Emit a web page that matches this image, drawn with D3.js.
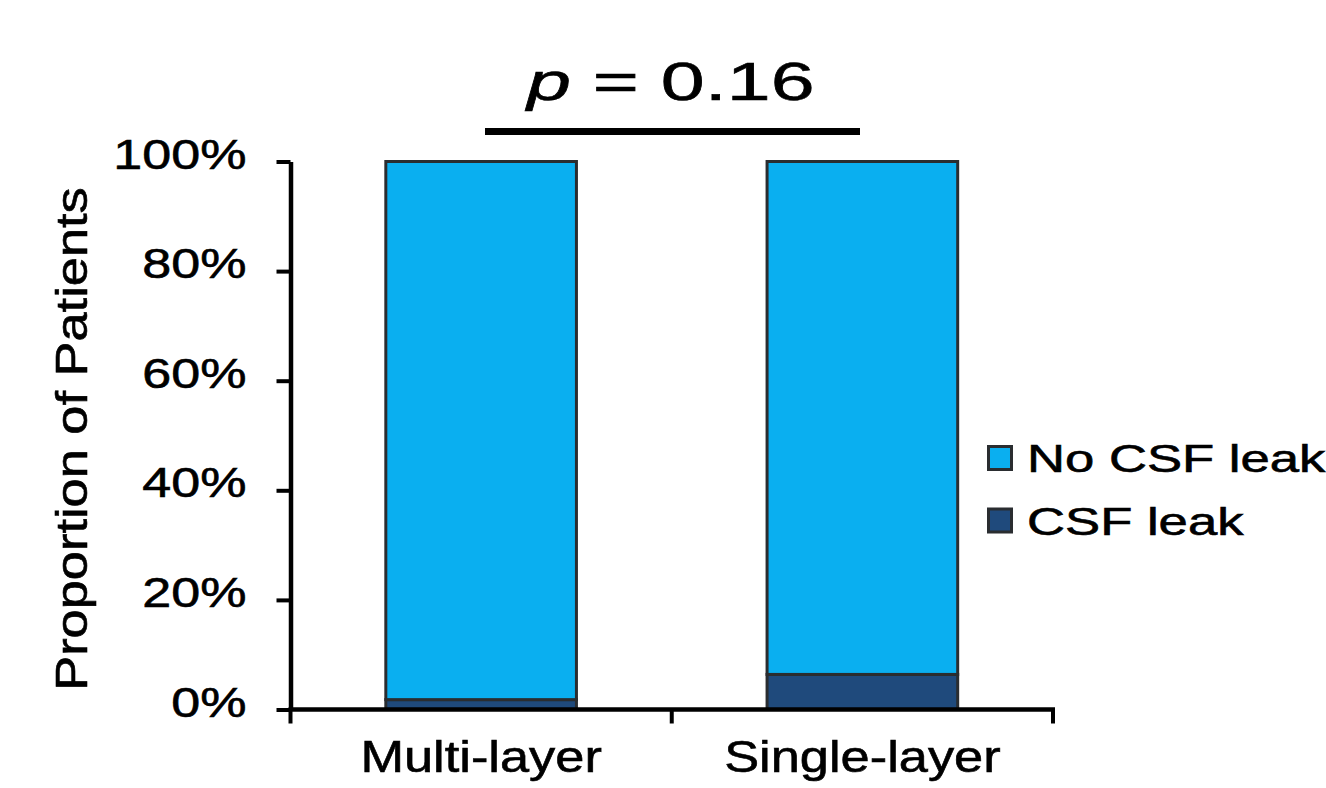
<!DOCTYPE html>
<html>
<head>
<meta charset="utf-8">
<script src="https://cdn.jsdelivr.net/npm/d3@7"></script>
<style>
  html, body { margin: 0; padding: 0; background: #fff; }
  svg { display: block; font-family: "Liberation Sans", Arial, Helvetica, sans-serif; }
  svg text { fill: #000; stroke: #000; stroke-width: 0.6px; }
</style>
</head>
<body>
<svg id="chart" width="1326" height="788"></svg>
<script>
// data
const categories = ['Multi-layer', 'Single-layer'];
const csfLeak = [1.8, 6.4];          // % of patients
const noCsfLeak = [98.2, 93.6];      // % of patients
const seriesNames = ['No CSF leak', 'CSF leak'];
const yTicks = [0, 20, 40, 60, 80, 100];
const pValue = '0.16';

const colors = { 'No CSF leak': '#0aaff0', 'CSF leak': '#1f4a7c' };

const svg = d3.select('#chart');

// plot box
const plotLeft = 290.5, plotRight = 1053, plotTop = 161.5, plotBottom = 709.5;

const rows = categories.map((c, i) => ({ cat: c, 'CSF leak': csfLeak[i], 'No CSF leak': noCsfLeak[i] }));
// CSF leak sits on the bottom of each bar
const stack = d3.stack().keys(['CSF leak', 'No CSF leak']);
const layers = stack(rows);

const x = d3.scaleBand().domain(categories).range([plotLeft, plotRight]).padding(0);
const y = d3.scaleLinear().domain([0, 100]).range([plotBottom, plotTop]);

const barW = x.bandwidth() * 0.5;

// bars
const g = svg.append('g').attr('class', 'bars');
layers.forEach(layer => {
    g.selectAll('.bar-' + layer.key.replace(/\s/g, ''))
        .data(layer)
        .enter()
        .append('rect')
        .attr('x', d => x(d.data.cat) + x.bandwidth() / 2 - barW / 2)
        .attr('width', barW)
        .attr('y', d => y(d[1]))
        .attr('height', d => y(d[0]) - y(d[1]))
        .attr('fill', colors[layer.key])
        .attr('stroke', '#2a2d30')
        .attr('stroke-width', 3);
});

// y axis
const yAxis = d3.axisLeft(y)
    .tickValues(yTicks)
    .tickSizeInner(14)
    .tickSizeOuter(0)
    .tickPadding(0)
    .tickFormat(d => d + '%');

const yG = svg.append('g')
    .attr('transform', 'translate(' + plotLeft + ',0)')
    .call(yAxis);
yG.select('.domain').attr('stroke', '#000').attr('stroke-width', 4.5);
yG.selectAll('.tick line').attr('stroke', '#000').attr('stroke-width', 4);
yG.selectAll('.tick text')
    .attr('x', null).attr('dy', null)
    .style('font-size', '42px')
    .attr('text-anchor', 'end')
    .attr('transform', 'translate(-44,6.5) scale(1.24,1)');

// x axis: line plus ticks at band edges
const xG = svg.append('g').attr('class', 'x axis');
xG.append('line')
    .attr('x1', plotLeft - 2).attr('x2', plotRight + 2)
    .attr('y1', plotBottom).attr('y2', plotBottom)
    .attr('stroke', '#000').attr('stroke-width', 4.5);

const edges = [x.range()[0]].concat(categories.map(c => x(c) + x.bandwidth()));
xG.selectAll('.xtick').data(edges).enter()
    .append('line')
    .attr('x1', d => d).attr('x2', d => d)
    .attr('y1', plotBottom).attr('y2', plotBottom + 14)
    .attr('stroke', '#000').attr('stroke-width', 4);

xG.selectAll('.xlabel').data(categories).enter()
    .append('text')
    .attr('text-anchor', 'middle')
    .style('font-size', '44px')
    .attr('transform', d => 'translate(' + (x(d) + x.bandwidth() / 2) + ',772) scale(1.19,1)')
    .text(d => d);

// y axis title
svg.append('text')
    .attr('text-anchor', 'middle')
    .style('font-size', '44px')
    .attr('transform', 'translate(87,439) rotate(-90) scale(1.19,1)')
    .text('Proportion of Patients');

// p-value bracket
const midX = (plotLeft + plotRight) / 2;
svg.append('line')
    .attr('x1', 485).attr('x2', 860)
    .attr('y1', 131.5).attr('y2', 131.5)
    .attr('stroke', '#000').attr('stroke-width', 7);

const pt = svg.append('text')
    .attr('text-anchor', 'middle')
    .style('font-size', '53px')
    .attr('transform', 'translate(' + (midX - 1) + ',100) scale(1.49,1)');
pt.append('tspan').style('font-style', 'italic').text('p');
pt.append('tspan').text(' = ' + pValue);

// legend
const legend = svg.append('g').attr('transform', 'translate(987,445)');
const items = legend.selectAll('.item').data(seriesNames).enter()
    .append('g')
    .attr('transform', (d, i) => 'translate(0,' + (i * 62.5) + ')');
items.append('rect')
    .attr('x', 1.5).attr('y', 1.5)
    .attr('width', 23).attr('height', 23)
    .attr('fill', d => colors[d])
    .attr('stroke', '#2a2d30')
    .attr('stroke-width', 3);
items.append('text')
    .style('font-size', '39px')
    .attr('transform', 'translate(40,27) scale(1.35,1)')
    .text(d => d);
</script>
</body>
</html>
